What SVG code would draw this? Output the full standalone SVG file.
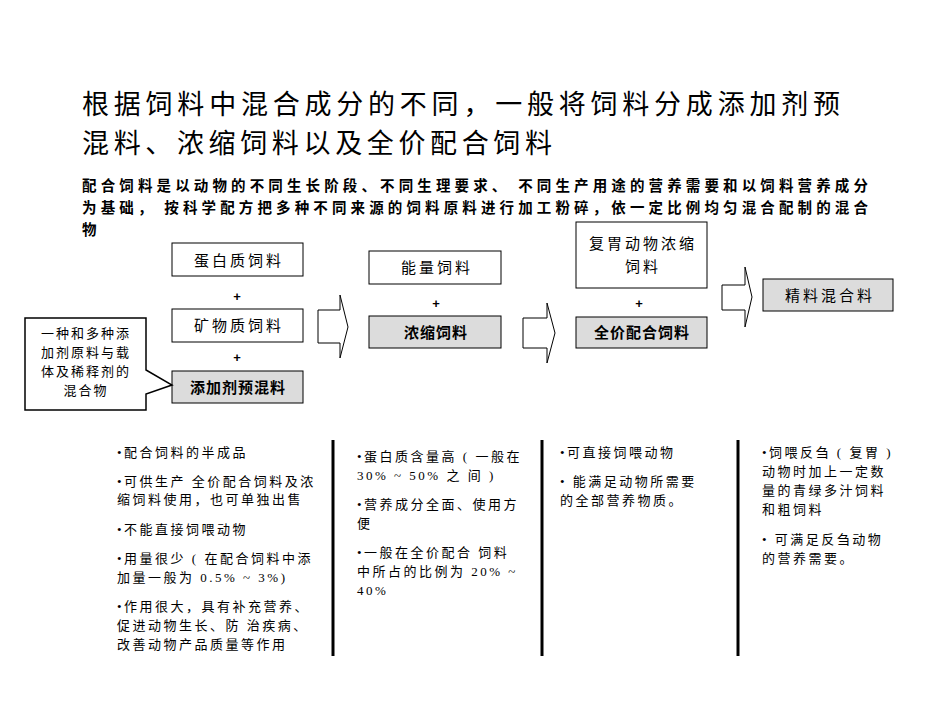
<svg xmlns="http://www.w3.org/2000/svg" width="950" height="713" viewBox="0 0 950 713">
<style>
text{font-family:"Liberation Serif","Noto Sans CJK SC",serif;fill:#000}
.t{font-size:27px}
.s{font-size:14.5px;font-weight:bold}
.b{fill:#fff;stroke:#000;stroke-width:1}
.g{fill:#dcdcdc;stroke:#000;stroke-width:1}
.n{font-size:15px;text-anchor:middle;letter-spacing:3px}
.nb{font-size:15px;text-anchor:middle;font-weight:bold;letter-spacing:1px}
.p{font-size:13px;font-weight:bold;text-anchor:middle;font-family:"Liberation Sans",sans-serif}
.l{font-size:13px;letter-spacing:2.5px}
.c{font-size:13px;letter-spacing:2px;text-anchor:middle}
.bar{stroke:#000;stroke-width:3}
.ar{fill:#fff;stroke:#000;stroke-width:1}
</style>
<rect width="950" height="713" fill="#fff"/>
<text class="t" x="82" y="114" textLength="758" lengthAdjust="spacing">根据饲料中混合成分的不同，一般将饲料分成添加剂预</text>
<text class="t" x="82" y="153" textLength="470" lengthAdjust="spacing">混料、浓缩饲料以及全价配合饲料</text>
<text class="s" x="82" y="191" textLength="786" lengthAdjust="spacing">配合饲料是以动物的不同生长阶段、不同生理要求、 不同生产用途的营养需要和以饲料营养成分</text>
<text class="s" x="82" y="213" textLength="786" lengthAdjust="spacing">为基础， 按科学配方把多种不同来源的饲料原料进行加工粉碎，依一定比例均匀混合配制的混合</text>
<text class="s" x="82" y="235">物</text>
<g id="n-protein"><rect class="b" x="172" y="243" width="131" height="33"/><text class="n" x="239" y="266">蛋白质饲料</text></g>
<text class="p" x="237" y="301">+</text>
<g id="n-mineral"><rect class="b" x="172" y="309" width="131" height="33"/><text class="n" x="239" y="331">矿物质饲料</text></g>
<text class="p" x="237" y="362">+</text>
<g id="n-premix"><rect class="g" x="172" y="371" width="131" height="32"/><text class="nb" x="238" y="393">添加剂预混料</text></g>
<g id="n-callout"><path d="M25 318H146V370L172 385L146 394V410H25Z" fill="#fff" stroke="#000" stroke-width="1.5"/>
<text class="c" x="86" y="338">一种和多种添</text>
<text class="c" x="86" y="357">加剂原料与载</text>
<text class="c" x="86" y="376">体及稀释剂的</text>
<text class="c" x="86" y="395">混合物</text></g>
<g id="n-energy"><rect class="b" x="369" y="251" width="132" height="33"/><text class="n" x="437" y="273">能量饲料</text></g>
<text class="p" x="436" y="308">+</text>
<g id="n-conc"><rect class="g" x="369" y="316" width="132" height="32"/><text class="nb" x="436" y="338">浓缩饲料</text></g>
<g id="n-rumin"><rect class="b" x="576" y="222" width="131" height="66"/><text class="n" x="643" y="249">复胃动物浓缩</text><text class="n" x="643" y="272">饲料</text></g>
<text class="p" x="639" y="308">+</text>
<g id="n-full"><rect class="g" x="576" y="317" width="131" height="31"/><text class="nb" x="642" y="338">全价配合饲料</text></g>
<g id="n-mix"><rect class="g" x="763" y="279" width="130" height="32"/><text class="n" x="830" y="301">精料混合料</text></g>
<g id="connectors">
<path class="ar" d="M318 310H340V295L348 327L340 358V343H318Z"/>
<path class="ar" d="M523 318H547V303L555 333L547 363V348H523Z"/>
<path class="ar" d="M722 285H745V267L752 297L745 327V310H722Z"/>
</g>
<line class="bar" x1="333" y1="440" x2="333" y2="656"/>
<line class="bar" x1="542" y1="440" x2="542" y2="656"/>
<line class="bar" x1="738" y1="440" x2="738" y2="656"/>
<g>
<text class="l" x="117" y="457">•配合饲料的半成品</text>
<text class="l" x="117" y="486">•可供生产  全价配合饲料及浓</text>
<text class="l" x="117" y="504">缩饲料使用，也可单独出售</text>
<text class="l" x="117" y="534">•不能直接饲喂动物</text>
<text class="l" x="117" y="563">•用量很少 ( 在配合饲料中添</text>
<text class="l" x="117" y="582">加量一般为 0.5%  ~ 3%)</text>
<text class="l" x="117" y="611">•作用很大，具有补充营养、</text>
<text class="l" x="117" y="630">促进动物生长、防 治疾病、</text>
<text class="l" x="117" y="649">改善动物产品质量等作用</text>
<text class="l" x="357" y="461">•蛋白质含量高 ( 一般在</text>
<text class="l" x="357" y="480">30% ~ 50% 之 间 )</text>
<text class="l" x="357" y="509">•营养成分全面、使用方</text>
<text class="l" x="357" y="528">便</text>
<text class="l" x="357" y="557">•一般在全价配合 饲料</text>
<text class="l" x="357" y="576">中所占的比例为 20% ~</text>
<text class="l" x="357" y="595">40%</text>
<text class="l" x="560" y="457">•可直接饲喂动物</text>
<text class="l" x="560" y="486">•  能满足动物所需要</text>
<text class="l" x="560" y="505">的全部营养物质。</text>
<text class="l" x="762" y="457">•饲喂反刍 ( 复胃 )</text>
<text class="l" x="762" y="476">动物时加上一定数</text>
<text class="l" x="762" y="495">量的青绿多汁饲料</text>
<text class="l" x="762" y="514">和粗饲料</text>
<text class="l" x="762" y="544">•  可满足反刍动物</text>
<text class="l" x="762" y="563">的营养需要。</text>
</g>
</svg>
